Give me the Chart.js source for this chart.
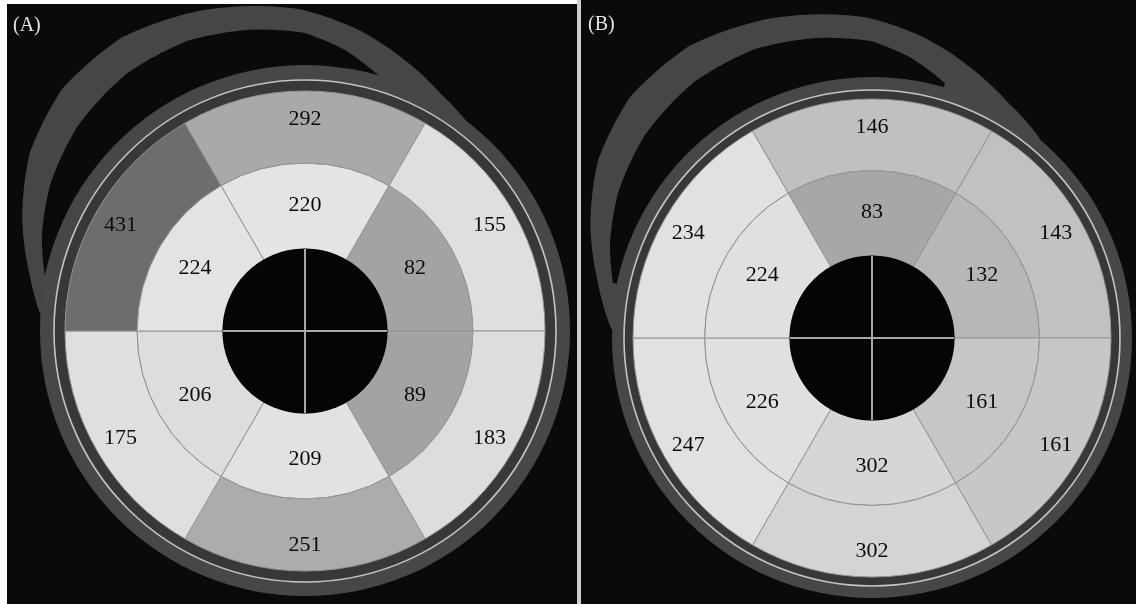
<!DOCTYPE html>
<html>
<head>
<meta charset="utf-8">
<script src="https://cdn.jsdelivr.net/npm/chart.js@4.4.1/dist/chart.umd.min.js"></script>
<style>
  html, body { margin: 0; padding: 0; background: #fff; width: 1136px; height: 604px; overflow: hidden; position: relative; }
  .panel { position: absolute; background: #0a0a0c; }
  #panelA { left: 7px; top: 4px; width: 570px; height: 600px; }
  #panelB { left: 581px; top: 0; width: 555px; height: 604px; }
  #sep { position: absolute; left: 577px; top: 0; width: 4px; height: 604px; background: #cfcfcf; }
  canvas { position: absolute; left: 0; top: 0; }
  .tag { position: absolute; font-family: "Liberation Serif", serif; font-size: 20px; line-height: 20px; color: #e6e6e6; }
</style>
</head>
<body>
<div class="panel" id="panelA">
  <canvas id="chartA" width="570" height="600"></canvas>
  <div class="tag" style="left:6px; top:10px;">(A)</div>
</div>
<div id="sep"></div>
<div class="panel" id="panelB">
  <canvas id="chartB" width="555" height="604"></canvas>
  <div class="tag" style="left:7px; top:13px;">(B)</div>
</div>

<script>
// sectors run clockwise, starting 30 deg past 12 o'clock
const sectors = ['upper right', 'lower right', 'bottom', 'lower left', 'upper left', 'top'];
const sectorSpan = [60, 60, 60, 60, 60, 60];

// (A)
const outerA = [155, 183, 251, 175, 431, 292];
const innerA = [82, 89, 209, 206, 224, 220];
// (B)
const outerB = [143, 161, 302, 247, 234, 146];
const innerB = [132, 161, 302, 226, 224, 83];

// grey levels of the map
const outerColorsA = ['#dfdfdf', '#dddddd', '#acacac', '#dfdfdf', '#6d6d6d', '#a9a9a9'];
const innerColorsA = ['#a3a3a3', '#a3a3a3', '#e2e2e2', '#dddddd', '#e3e3e3', '#e4e4e4'];
const outerColorsB = ['#c1c1c1', '#c7c7c7', '#d4d4d4', '#e1e1e1', '#e1e1e1', '#c0c0c0'];
const innerColorsB = ['#b7b7b7', '#c6c6c6', '#d6d6d6', '#e0e0e0', '#e0e0e0', '#a7a7a7'];

const bg = '#0a0a0c';

// the misregistered rim that loops over the top-left (deg, radius at R = 240)
const spiralOuter = [[-178, 262], [-168, 282], [-158, 305], [-147, 328], [-135, 343], [-122, 346],
                     [-108, 337], [-91, 322], [-80, 306], [-70, 289], [-60, 273], [-50, 262]];
const spiralGap = [[-168, 266], [-160, 280], [-150, 294], [-138, 306], [-125, 313], [-112, 313],
                   [-100, 306], [-90, 298], [-82, 284], [-74, 266]];

function radiusAt(knots, deg) {
    for (let i = 0; i < knots.length - 1; i++) {
        const [a0, r0] = knots[i], [a1, r1] = knots[i + 1];
        if (deg >= a0 && deg <= a1) return r0 + (r1 - r0) * (deg - a0) / (a1 - a0);
    }
    return knots[knots.length - 1][1];
}

function traceEdge(ctx, cx, cy, knots, k) {
    const first = knots[0][0], last = knots[knots.length - 1][0];
    for (let d = first; d <= last; d += 0.5) {
        const a = d * Math.PI / 180, r = radiusAt(knots, d) * k;
        const x = cx + r * Math.cos(a), y = cy + r * Math.sin(a);
        d === first ? ctx.moveTo(x, y) : ctx.lineTo(x, y);
    }
}

const polarMapFrame = {
    id: 'polarMapFrame',
    beforeDatasetsDraw(chart, args, opts) {
        const el = chart.getDatasetMeta(0).data[0];
        const cx = el.x, cy = el.y, R = el.outerRadius, k = R / 240;
        const ctx = chart.ctx;
        const rad = d => d * Math.PI / 180;
        ctx.save();
        // spiral band
        ctx.beginPath();
        traceEdge(ctx, cx, cy, spiralOuter, k);
        ctx.arc(cx, cy, R + 12, rad(-50), rad(-178), true);
        ctx.closePath();
        ctx.fillStyle = '#464646';
        ctx.fill();
        // rim round the map
        ctx.beginPath();
        ctx.arc(cx, cy, R + opts.rim, 0, Math.PI * 2);
        ctx.fillStyle = '#474747';
        ctx.fill();
        ctx.beginPath();
        ctx.arc(cx, cy, R + opts.line, 0, Math.PI * 2);
        ctx.fillStyle = '#383838';
        ctx.fill();
        // black gap between spiral and rim
        ctx.beginPath();
        traceEdge(ctx, cx, cy, spiralGap, k);
        ctx.arc(cx, cy, R + opts.rim + 1, rad(-74), rad(-168), true);
        ctx.closePath();
        ctx.fillStyle = bg;
        ctx.fill();
        // thin light ring
        ctx.beginPath();
        ctx.arc(cx, cy, R + opts.line, 0, Math.PI * 2);
        ctx.strokeStyle = '#c4c4c4';
        ctx.lineWidth = 1.6;
        ctx.stroke();
        ctx.restore();
    },
    afterDatasetsDraw(chart) {
        const ctx = chart.ctx;
        const inner = chart.getDatasetMeta(1).data[0];
        const cx = inner.x, cy = inner.y, r0 = inner.innerRadius;
        ctx.save();
        // centre hole with cross
        ctx.beginPath();
        ctx.arc(cx, cy, r0 + 0.6, 0, Math.PI * 2);
        ctx.fillStyle = '#050505';
        ctx.fill();
        ctx.strokeStyle = '#a8a8a8';
        ctx.lineWidth = 2;
        ctx.beginPath();
        ctx.moveTo(cx - r0, cy); ctx.lineTo(cx + r0, cy);
        ctx.moveTo(cx, cy - r0); ctx.lineTo(cx, cy + r0);
        ctx.stroke();
        // segment values
        ctx.fillStyle = '#0c0c0c';
        ctx.font = '22px "Liberation Serif", serif';
        ctx.textAlign = 'center';
        ctx.textBaseline = 'middle';
        chart.data.datasets.forEach((ds, di) => {
            chart.getDatasetMeta(di).data.forEach((el, i) => {
                const mid = (el.startAngle + el.endAngle) / 2;
                const r = (el.innerRadius + el.outerRadius) / 2 + (di === 0 ? 9 : 2);
                ctx.fillText(String(ds.values[i]), el.x + r * Math.cos(mid), el.y + r * Math.sin(mid) + 1);
            });
        });
        ctx.restore();
    }
};

function polarMap(id, outerVals, innerVals, outerColors, innerColors, radius, padding, frame) {
    const ring = (vals, colors, weight) => ({
        data: sectorSpan,
        values: vals,
        backgroundColor: colors,
        borderColor: '#959595',
        borderWidth: 1,
        hoverOffset: 0,
        weight: weight
    });
    return new Chart(document.getElementById(id), {
        type: 'doughnut',
        data: {
            labels: sectors,
            datasets: [ring(outerVals, outerColors, 72), ring(innerVals, innerColors, 86)]
        },
        options: {
            responsive: false,
            animation: false,
            events: [],
            rotation: 30,
            radius: radius,
            cutout: (82 / radius * 100) + '%',
            layout: { padding: padding },
            plugins: {
                legend: { display: false },
                tooltip: { enabled: false },
                polarMapFrame: frame
            }
        },
        plugins: [polarMapFrame]
    });
}

polarMap('chartA', outerA, innerA, outerColorsA, innerColorsA, 240,
    { left: 58, right: 32, top: 87, bottom: 33 }, { line: 11, rim: 25 });
polarMap('chartB', outerB, innerB, outerColorsB, innerColorsB, 239,
    { left: 51, right: 24, top: 98, bottom: 26 }, { line: 9, rim: 21 });
</script>
</body>
</html>
